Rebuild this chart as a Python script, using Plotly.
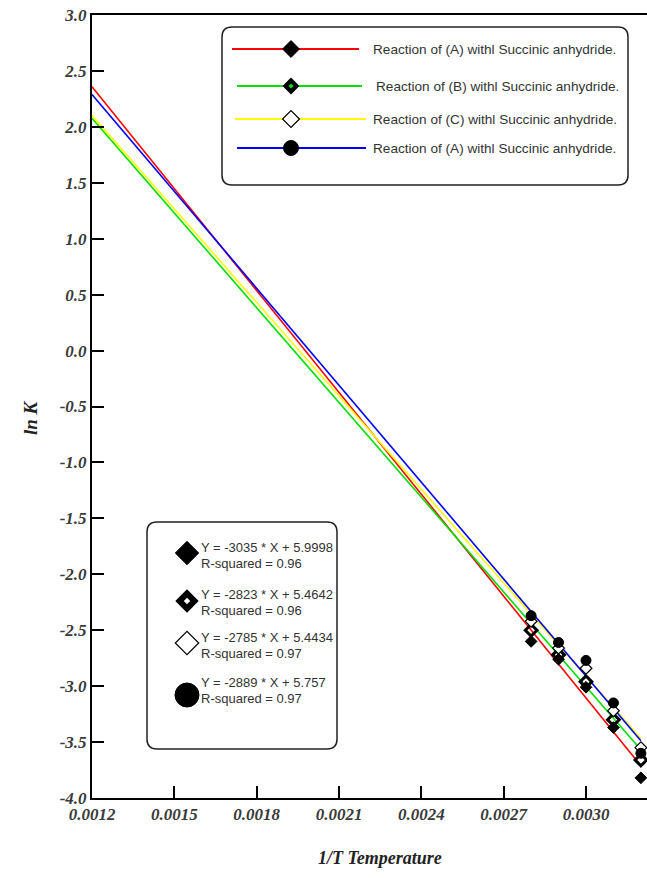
import plotly.graph_objects as go

# ---------------- data ----------------
series_names = [
    "Reaction of (A) withl Succinic anhydride.",
    "Reaction of (B) withl Succinic anhydride.",
    "Reaction of (C) withl Succinic anhydride.",
    "Reaction of (A) withl Succinic anhydride.",
]
line_colors = ["#ff0000", "#00e000", "#ffff00", "#0000ff"]
slopes = [-3035, -2823, -2785, -2889]
intercepts = [5.9998, 5.4642, 5.4434, 5.757]
r_squared = ["0.96", "0.96", "0.97", "0.97"]
fit_x_range = [0.0012, 0.0032]

inv_T = [0.0028, 0.0029, 0.0030, 0.0031, 0.0032]
lnK_A = [-2.60, -2.76, -3.01, -3.37, -3.82]
lnK_B = [-2.50, -2.72, -2.96, -3.30, -3.66]
lnK_C = [-2.42, -2.66, -2.84, -3.22, -3.55]
lnK_D = [-2.37, -2.61, -2.77, -3.15, -3.60]
lnK_all = [lnK_A, lnK_B, lnK_C, lnK_D]

x_ticks = [0.0012, 0.0015, 0.0018, 0.0021, 0.0024, 0.0027, 0.0030]
y_ticks = [3.0, 2.5, 2.0, 1.5, 1.0, 0.5, 0.0, -0.5, -1.0, -1.5, -2.0, -2.5, -3.0, -3.5, -4.0]
y_tick_text = [f"{v:.1f}" for v in y_ticks]
x_tick_text = [f"{v:.4f}" for v in x_ticks]

# ---------------- layout geometry (page pixels, body margin removed) ----------------
W, H = 647, 878
PL, PT, PR, PB = 92, 15, 647, 798          # plot area on the page
PX_PER_X = 274444.0                         # pixels per unit of 1/T
L, T, R, B = PL, PT, W - PR, H - PB
X_RANGE = [0.0012, 0.0012 + (PR - PL) / PX_PER_X]
Y_RANGE = [-4.0, 3.0]

marker_styles = [
    dict(symbol="diamond", color="black", line=dict(color="black", width=1)),
    dict(symbol="diamond-open", color="black", line=dict(color="black", width=3)),
    dict(symbol="diamond", color="white", line=dict(color="black", width=1.2)),
    dict(symbol="circle", color="black", line=dict(color="black", width=1)),
]

fig = go.Figure()

# fitted lines
for i in range(4):
    ys = [slopes[i] * x + intercepts[i] for x in fit_x_range]
    fig.add_trace(go.Scatter(x=fit_x_range, y=ys, mode="lines",
                             line=dict(color=line_colors[i], width=1.6),
                             hoverinfo="skip"))

# data points
for i in range(4):
    ms = dict(marker_styles[i])
    ms["size"] = 10 if ms["symbol"] == "circle" else 9
    fig.add_trace(go.Scatter(x=inv_T, y=lnK_all[i], mode="markers", marker=ms,
                             name=series_names[i], cliponaxis=False))

# ---------- pixel-space overlay for legend boxes ----------
def rounded_box(x0, y0, x1, y1, r):
    return (f"M {x0+r},{y0} L {x1-r},{y0} Q {x1},{y0} {x1},{y0+r} "
            f"L {x1},{y1-r} Q {x1},{y1} {x1-r},{y1} L {x0+r},{y1} "
            f"Q {x0},{y1} {x0},{y1-r} L {x0},{y0+r} Q {x0},{y0} {x0+r},{y0} Z")

shapes = [
    dict(type="path", path=rounded_box(222, 27, 628, 185, 10), xref="x2", yref="y2",
         line=dict(color="#222", width=1.5), fillcolor="white", layer="below"),
    dict(type="path", path=rounded_box(147, 522, 337, 749, 10), xref="x2", yref="y2",
         line=dict(color="#222", width=1.5), fillcolor="white", layer="below"),
]

txt_font = dict(family="Liberation Sans", size=13, color="#333")
leg1_font = dict(family="Liberation Sans", size=13.6, color="#333")

# legend 1 rows
leg1_y = [49, 86, 119, 148]
leg1_line_x = [[232, 359], [237, 362], [235, 366], [237, 366]]
leg1_marker_x = 291
annotations = []
for i in range(4):
    fig.add_trace(go.Scatter(x=leg1_line_x[i], y=[leg1_y[i]] * 2, mode="lines",
                             line=dict(color=line_colors[i], width=2.2),
                             xaxis="x2", yaxis="y2", hoverinfo="skip"))
    if i == 1:
        fig.add_trace(go.Scatter(x=[leg1_marker_x], y=[leg1_y[i]], mode="markers",
                                 marker=dict(symbol="diamond", size=13, color="black"),
                                 xaxis="x2", yaxis="y2", hoverinfo="skip"))
        fig.add_trace(go.Scatter(x=[leg1_marker_x], y=[leg1_y[i]], mode="markers",
                                 marker=dict(symbol="diamond", size=4, color=line_colors[1]),
                                 xaxis="x2", yaxis="y2", hoverinfo="skip"))
    else:
        ms = dict(marker_styles[i])
        ms["size"] = 15 if ms["symbol"] == "circle" else 13
        fig.add_trace(go.Scatter(x=[leg1_marker_x], y=[leg1_y[i]], mode="markers",
                                 marker=ms, xaxis="x2", yaxis="y2", hoverinfo="skip"))
    annotations.append(dict(x=371 if i != 1 else 374, y=leg1_y[i], xref="x2", yref="y2",
                            text=series_names[i], showarrow=False, xanchor="left",
                            yanchor="middle", font=leg1_font))

# legend 2 rows (equations)
leg2_marker_y = [553, 601, 643, 695]
leg2_text_y = [[547, 563], [594, 610], [637, 653], [682, 698]]
for i in range(4):
    if i == 1:
        fig.add_trace(go.Scatter(x=[187], y=[leg2_marker_y[i]], mode="markers",
                                 marker=dict(symbol="diamond", size=18, color="black"),
                                 xaxis="x2", yaxis="y2", hoverinfo="skip"))
        fig.add_trace(go.Scatter(x=[187], y=[leg2_marker_y[i]], mode="markers",
                                 marker=dict(symbol="diamond", size=5, color="white"),
                                 xaxis="x2", yaxis="y2", hoverinfo="skip"))
    else:
        ms = dict(marker_styles[i])
        ms["size"] = 24 if ms["symbol"] == "circle" else 18
        fig.add_trace(go.Scatter(x=[187], y=[leg2_marker_y[i]], mode="markers",
                                 marker=ms, xaxis="x2", yaxis="y2", hoverinfo="skip"))
    eq = f"Y = {slopes[i]} * X + {intercepts[i]}"
    annotations.append(dict(x=199, y=leg2_text_y[i][0], xref="x2", yref="y2", text=eq,
                            showarrow=False, xanchor="left", yanchor="middle",
                            font=txt_font))
    annotations.append(dict(x=199, y=leg2_text_y[i][1], xref="x2", yref="y2",
                            text=f"R-squared = {r_squared[i]}",
                            showarrow=False, xanchor="left", yanchor="middle",
                            font=txt_font))

# axis titles (paper coords derived from page pixels)
def px_to_paper(px, py):
    return (px - PL) / (PR - PL), (PB - py) / (PB - PT)

xt, yt = px_to_paper(380, 858)
annotations.append(dict(x=xt, y=yt, xref="paper", yref="paper", text="1/T Temperature",
                        showarrow=False, xanchor="center", yanchor="middle",
                        font=dict(family="Liberation Serif", size=18, color="#222",
                                  style="italic", weight="bold")))
xt, yt = px_to_paper(30, 418)
annotations.append(dict(x=xt, y=yt, xref="paper", yref="paper", text="ln K", textangle=-90,
                        showarrow=False, xanchor="center", yanchor="middle",
                        font=dict(family="Liberation Serif", size=19, color="#222",
                                  style="italic", weight="bold")))

tickfont = dict(family="Liberation Serif", size=17, color="#3a3a3a",
                style="italic", weight="bold")

fig.update_layout(
    width=W, height=H, autosize=False,
    margin=dict(l=L, r=R, t=T, b=B, pad=0),
    plot_bgcolor="white", paper_bgcolor="white",
    showlegend=False,
    shapes=shapes,
    annotations=annotations,
    xaxis=dict(range=X_RANGE, tickvals=x_ticks, ticktext=x_tick_text,
               showline=True, linecolor="black", linewidth=2, mirror=True,
               ticks="inside", ticklen=12, tickwidth=1.5, tickcolor="black",
               showgrid=False, zeroline=False, tickfont=tickfont,
               ticklabeloverflow="allow"),
    yaxis=dict(range=Y_RANGE, tickvals=y_ticks, ticktext=y_tick_text,
               showline=True, linecolor="black", linewidth=2, mirror=False,
               ticks="inside", ticklen=12, tickwidth=1.5, tickcolor="black",
               showgrid=False, zeroline=False, tickfont=tickfont,
               ticklabeloverflow="allow"),
    xaxis2=dict(range=[PL, PR], overlaying="x", anchor="y2", visible=False,
                showgrid=False, zeroline=False),
    yaxis2=dict(range=[PB, PT], overlaying="y", anchor="x2", visible=False,
                showgrid=False, zeroline=False),
)

fig.write_html("out.html",
               config={"displayModeBar": False},
               post_script="document.body.style.margin='0';"
                           "document.body.style.overflow='hidden';")
